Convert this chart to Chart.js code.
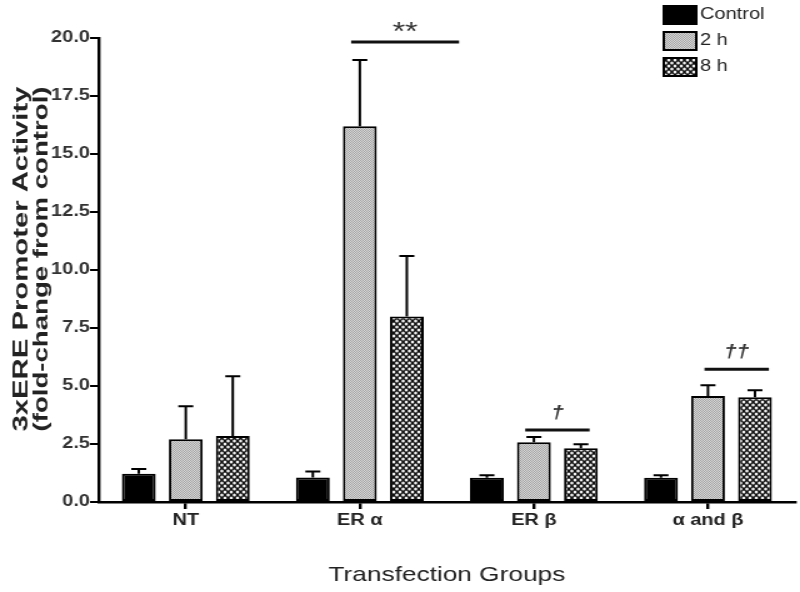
<!DOCTYPE html>
<html lang="en">
<head>
  <meta charset="UTF-8" />
  <title>3xERE Promoter Activity</title>
  <script src="https://cdn.jsdelivr.net/npm/chart.js"></script>
  <style>
    html, body { margin: 0; padding: 0; background: #fff; overflow: hidden; }
    /* the original figure is stretched sideways, so draw narrow and widen it */
    .wrap { width: 640px; height: 592px; position: relative; transform: scaleX(1.25); transform-origin: 0 0; }
  </style>
</head>
<body>
  <div class="wrap"><canvas id="chart"></canvas></div>

  <script>
    const FONT = "'Liberation Sans', Arial, sans-serif";

    const categories = ['NT', 'ER \u03b1', 'ER \u03b2', '\u03b1 and \u03b2'];
    const seriesNames = ['Control', '2 h', '8 h'];

    // means and error (upper SEM)
    const controlMean = [1.22, 1.06, 1.05, 1.05];
    const controlErr  = [0.20, 0.26, 0.10, 0.10];
    const h2Mean = [2.70, 16.20, 2.58, 4.57];
    const h2Err  = [1.43, 2.85, 0.22, 0.46];
    const h8Mean = [2.84, 8.00, 2.32, 4.52];
    const h8Err  = [2.58, 2.60, 0.17, 0.30];

    const yTicks = [0, 2.5, 5, 7.5, 10, 12.5, 15, 17.5, 20];

    // significance marks: category, start/end (in category units), height, label
    const sigCat   = [1, 2, 3];
    const sigFrom  = [-0.05, -0.05, -0.02];
    const sigTo    = [0.57, 0.32, 0.35];
    const sigLevel = [19.83, 3.10, 5.72];
    const sigLabel = ['**', '\u2020', '\u2020\u2020'];

    const yTitle = ['3xERE Promoter Activity', '(fold-change from control)'];

    function makePattern(kind) {
      const c = document.createElement('canvas');
      const g = c.getContext('2d');
      if (kind === 'stipple') {
        c.width = 2; c.height = 2;
        g.fillStyle = '#d8d8d8'; g.fillRect(0, 0, 2, 2);
        g.fillStyle = '#a4a4a4'; g.fillRect(0, 0, 1, 1); g.fillRect(1, 1, 1, 1);
      } else {
        c.width = 5; c.height = 6;
        g.fillStyle = '#111'; g.fillRect(0, 0, 5, 6);
        g.fillStyle = '#f2f2f2';
        [[0, 0], [5, 0], [0, 6], [5, 6], [2.5, 3]].forEach(([x, y]) => {
          g.beginPath(); g.ellipse(x, y, 1.3, 1.5, 0, 0, Math.PI * 2); g.fill();
        });
      }
      return g.createPattern(c, 'repeat');
    }

    const errs = [controlErr, h2Err, h8Err];

    const errorBars = {
      id: 'errorBars',
      afterDatasetsDraw(chart) {
        const ctx = chart.ctx;
        const y = chart.scales.y;
        ctx.save();
        ctx.strokeStyle = '#000';
        ctx.lineWidth = 2;
        chart.data.datasets.forEach((ds, di) => {
          chart.getDatasetMeta(di).data.forEach((bar, i) => {
            const top = y.getPixelForValue(ds.data[i] + errs[di][i]);
            ctx.beginPath();
            ctx.moveTo(bar.x, bar.y);
            ctx.lineTo(bar.x, top);
            ctx.moveTo(bar.x - 6, top);
            ctx.lineTo(bar.x + 6, top);
            ctx.stroke();
          });
        });
        ctx.restore();
      }
    };

    const sigMarks = {
      id: 'sigMarks',
      afterDraw(chart) {
        const ctx = chart.ctx;
        const x = chart.scales.x, y = chart.scales.y;
        const step = x.getPixelForValue(1) - x.getPixelForValue(0);
        ctx.save();
        ctx.strokeStyle = '#111';
        ctx.fillStyle = '#333';
        ctx.lineWidth = 3;
        ctx.textAlign = 'center';
        ctx.textBaseline = 'middle';
        sigCat.forEach((c, i) => {
          const x0 = x.getPixelForValue(c) + sigFrom[i] * step;
          const x1 = x.getPixelForValue(c) + sigTo[i] * step;
          const py = y.getPixelForValue(sigLevel[i]);
          ctx.beginPath(); ctx.moveTo(x0, py); ctx.lineTo(x1, py); ctx.stroke();
          if (i === 0) {
            ctx.font = '26px ' + FONT;
            ctx.fillText(sigLabel[i], (x0 + x1) / 2, py - 9);
          } else {
            ctx.font = 'italic bold 18px ' + FONT;
            ctx.fillText(sigLabel[i], (x0 + x1) / 2, py - 17);
          }
        });
        ctx.restore();
      }
    };

    const boxLegend = {
      id: 'boxLegend',
      afterDraw(chart) {
        const ctx = chart.ctx;
        ctx.save();
        ctx.font = '16px ' + FONT;
        ctx.textBaseline = 'middle';
        chart.data.datasets.forEach((ds, i) => {
          const top = 5 + i * 26;
          ctx.fillStyle = ds.backgroundColor;
          ctx.fillRect(530, top, 28, 20);
          ctx.strokeStyle = '#000';
          ctx.lineWidth = 2;
          ctx.strokeRect(531, top + 1, 26, 18);
          ctx.fillStyle = '#222';
          ctx.fillText(ds.label, 560, top + 10);
        });
        ctx.restore();
      }
    };

    // y title: bold, drawn long along the axis like the original
    const yTitlePlugin = {
      id: 'yTitlePlugin',
      afterDraw(chart) {
        const ctx = chart.ctx;
        const a = chart.chartArea;
        const cy = (a.top + a.bottom) / 2 - 11;
        ctx.save();
        ctx.font = 'bold 17px ' + FONT;
        ctx.fillStyle = '#222';
        ctx.textAlign = 'center';
        ctx.textBaseline = 'middle';
        yTitle.forEach((t, i) => {
          ctx.save();
          ctx.translate(17 + i * 16.5, cy);
          ctx.rotate(-Math.PI / 2);
          const w = ctx.measureText(t).width;
          ctx.scale((i === 0 ? 345 : 345) / w, 1);
          ctx.fillText(t, 0, 0);
          ctx.restore();
        });
        ctx.restore();
      }
    };

    const means = [controlMean, h2Mean, h8Mean];
    const fills = ['#000', makePattern('stipple'), makePattern('cross')];

    new Chart(document.getElementById('chart').getContext('2d'), {
      type: 'bar',
      data: {
        labels: categories,
        datasets: seriesNames.map((name, i) => ({
          label: name,
          data: means[i],
          backgroundColor: fills[i],
          borderColor: '#000',
          borderWidth: 2,
          borderSkipped: false,
          categoryPercentage: 0.81,
          barPercentage: 0.72
        }))
      },
      options: {
        responsive: true,
        maintainAspectRatio: false,
        animation: false,
        layout: { padding: { top: 38, right: 4, left: 0, bottom: 0 } },
        plugins: {
          legend: { display: false },
          tooltip: { enabled: false }
        },
        scales: {
          x: {
            grid: { display: true, drawOnChartArea: false, offset: false, color: '#000', lineWidth: 2.4, tickLength: 7 },
            border: { color: '#000', width: 2.4 },
            ticks: { color: '#222', font: { family: FONT, size: 16, weight: 'bold' }, padding: 2 },
            title: { display: true, text: 'Transfection Groups', color: '#222', font: { family: FONT, size: 21 }, padding: { top: 28 } },
            afterFit(s) { s.height = 90; }
          },
          y: {
            min: 0, max: 20,
            afterBuildTicks(s) { s.ticks = yTicks.map(v => ({ value: v })); },
            grid: { display: true, drawOnChartArea: false, color: '#000', lineWidth: 2, tickLength: 7 },
            border: { color: '#000', width: 2.4 },
            ticks: {
              color: '#333', padding: 0,
              font: { family: FONT, size: 16, weight: 'bold' },
              callback: v => v.toFixed(1)
            },
            title: { display: false },
            afterFit(s) { s.width = 79; }
          }
        }
      },
      plugins: [errorBars, sigMarks, boxLegend, yTitlePlugin]
    });
  </script>
</body>
</html>
